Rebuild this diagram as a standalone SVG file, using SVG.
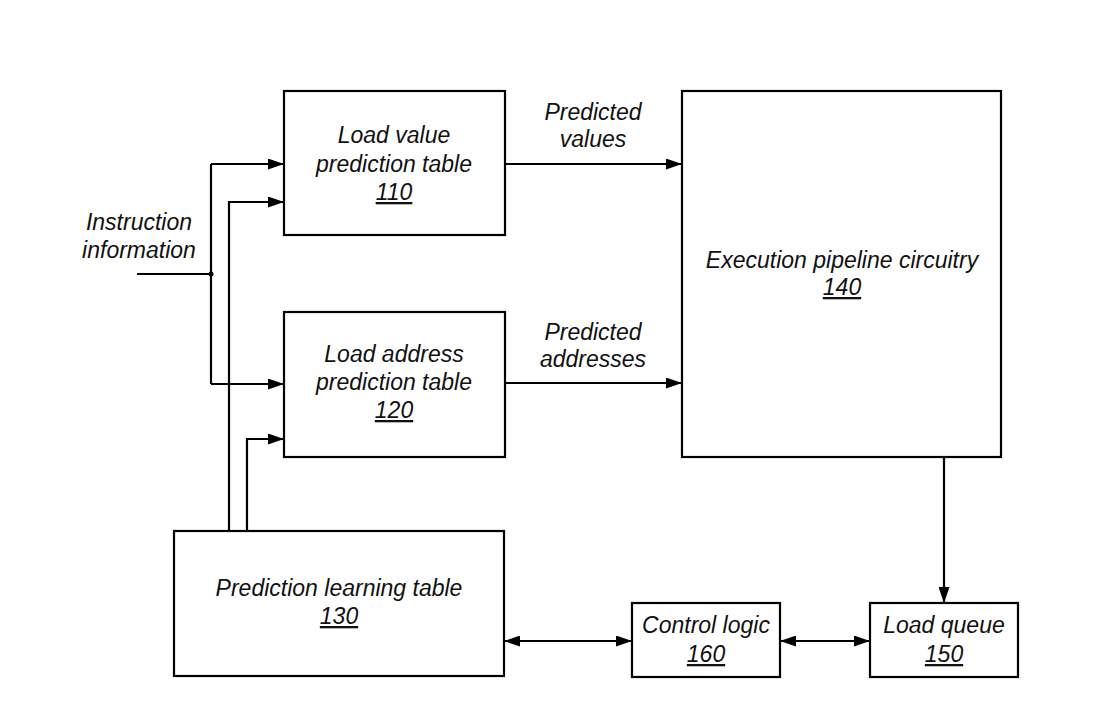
<svg xmlns="http://www.w3.org/2000/svg" width="1100" height="728" viewBox="0 0 1100 728">
<style>
.box{fill:#fff;stroke:#000;stroke-width:2.2}
.t{font-family:"Liberation Sans",Arial,sans-serif;font-style:italic;font-size:23px;fill:#111;text-anchor:middle}
.u{text-decoration:underline}
.ln{fill:none;stroke:#000;stroke-width:2.2}
</style>
<defs>
<marker id="ah" viewBox="0 0 16 11" refX="16" refY="5.5" markerWidth="16" markerHeight="11" markerUnits="userSpaceOnUse" orient="auto-start-reverse">
<path d="M0,0 L16,5.5 L0,11 Z" fill="#000"/>
</marker>
</defs>
<rect width="1100" height="728" fill="#fff"/>
<g id="connectors">
<path class="ln" d="M137,274 H211"/>
<path class="ln" d="M211,164 V384"/>
<path class="ln" d="M211,164 H284" marker-end="url(#ah)"/>
<path class="ln" d="M211,384 H284" marker-end="url(#ah)"/>
<circle cx="211" cy="274" r="2.5" fill="#000"/>
<path class="ln" d="M229,531 V202 H284" marker-end="url(#ah)"/>
<path class="ln" d="M247,531 V439 H284" marker-end="url(#ah)"/>
<path class="ln" d="M505,164 H682" marker-end="url(#ah)"/>
<path class="ln" d="M505,383 H682" marker-end="url(#ah)"/>
<path class="ln" d="M944,457 V603" marker-end="url(#ah)"/>
<path class="ln" d="M504,641 H632" marker-start="url(#ah)" marker-end="url(#ah)"/>
<path class="ln" d="M780,641 H870" marker-start="url(#ah)" marker-end="url(#ah)"/>
<text class="t" x="139" y="230">Instruction</text>
<text class="t" x="139" y="258">information</text>
<text class="t" x="593" y="120">Predicted</text>
<text class="t" x="593" y="147">values</text>
<text class="t" x="593" y="340">Predicted</text>
<text class="t" x="593" y="367">addresses</text>
</g>
<g id="n110">
<rect class="box" x="284" y="91" width="221" height="144"/>
<text class="t" x="394" y="143">Load value</text>
<text class="t" x="394" y="172">prediction table</text>
<text class="t u" x="394" y="200">110</text>
</g>
<g id="n120">
<rect class="box" x="284" y="312" width="221" height="145"/>
<text class="t" x="394" y="362">Load address</text>
<text class="t" x="394" y="390">prediction table</text>
<text class="t u" x="394" y="418">120</text>
</g>
<g id="n130">
<rect class="box" x="174" y="531" width="330" height="145"/>
<text class="t" x="339" y="596">Prediction learning table</text>
<text class="t u" x="339" y="624">130</text>
</g>
<g id="n140">
<rect class="box" x="682" y="91" width="319" height="366"/>
<text class="t" x="842" y="268">Execution pipeline circuitry</text>
<text class="t u" x="842" y="295">140</text>
</g>
<g id="n160">
<rect class="box" x="632" y="603" width="148" height="74"/>
<text class="t" x="706" y="633">Control logic</text>
<text class="t u" x="706" y="662">160</text>
</g>
<g id="n150">
<rect class="box" x="870" y="603" width="148" height="74"/>
<text class="t" x="944" y="633">Load queue</text>
<text class="t u" x="944" y="662">150</text>
</g>
</svg>
